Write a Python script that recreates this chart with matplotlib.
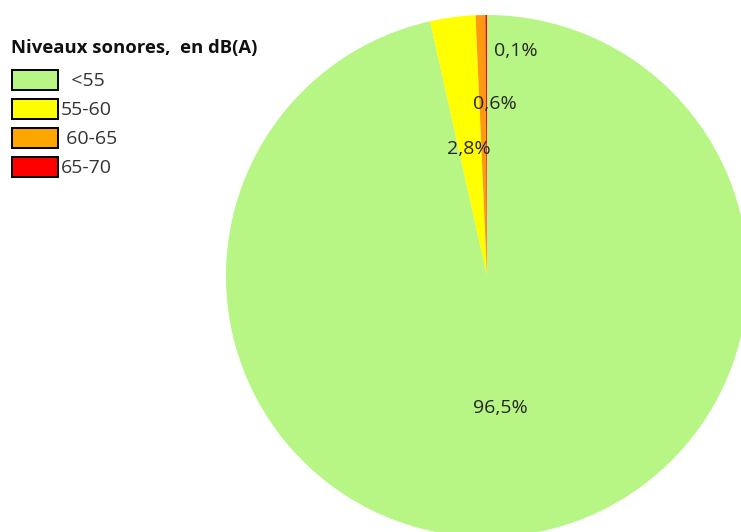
import matplotlib
matplotlib.use("Agg")
import matplotlib.pyplot as plt
from matplotlib.patches import Rectangle

# Share of the exposed area per noise level band
categories = ["<55", "55-60", "60-65", "65-70"]
shares = [96.5, 2.8, 0.6, 0.1]
value_labels = ["96,5%", "2,8%", "0,6%", "0,1%"]
colors = ["#b7f584", "#ffff00", "#ff9a10", "#ff0000"]
legend_colors = ["#b7f584", "#ffff00", "#ffa500", "#ff0000"]
legend_text = ["  <55", "55-60", " 60-65", "65-70"]
title = "Niveaux sonores,  en dB(A)"

W, H = 741, 532
fig = plt.figure(figsize=(W / 100, H / 100), dpi=100)
ax = fig.add_axes([0, 0, 1, 1])

font = ["Open Sans", "DejaVu Sans"]

cx, cy, r = 487, H - 276, 261
ax.pie(shares, colors=colors, startangle=90, counterclock=False,
       center=(cx, cy), radius=r, wedgeprops=dict(linewidth=0))
ax.set_xlim(0, W)
ax.set_ylim(0, H)
ax.set_aspect("auto")
ax.axis("off")

# Percent labels, placed in pixel space (y measured from the top)
label_pos = [(500, 408), (469, 149), (495, 104), (516, 51)]
for txt, (x, y) in zip(value_labels, label_pos):
    ax.text(x, H - y, txt, ha="center", va="center", fontsize=14,
            color="#262626", family=font)

# Legend
ax.text(11, H - 48, title, ha="left", va="center", fontsize=13.3,
        fontweight="bold", color="#111111", family=font)
for i, (lab, col) in enumerate(zip(legend_text, legend_colors)):
    top = 70 + i * 29
    ax.add_patch(Rectangle((12, H - top - 20), 46, 20, facecolor=col,
                           edgecolor="black", linewidth=1.4))
    ax.text(61, H - top - 11, lab, ha="left", va="center", fontsize=14,
            color="#333333", family=font)

fig.savefig("out.png", dpi=100)
